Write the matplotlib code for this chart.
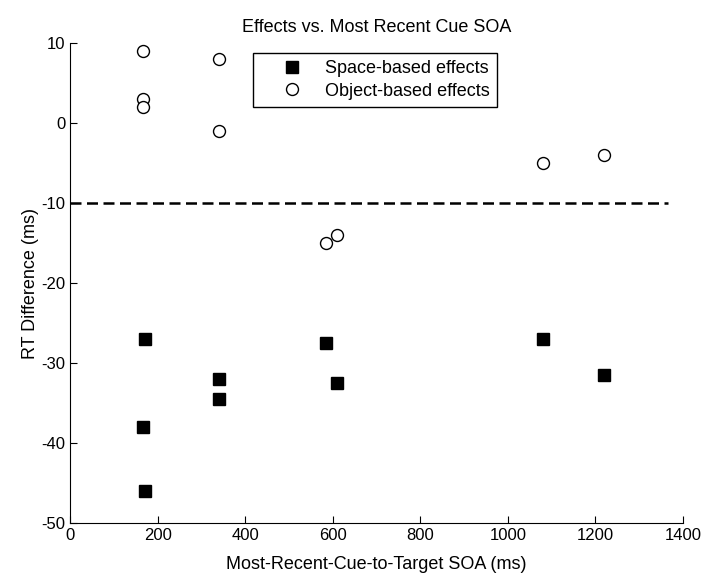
import matplotlib
matplotlib.use('Agg')
import matplotlib.pyplot as plt

plt.rcParams['font.family'] = ['Liberation Sans', 'DejaVu Sans']
plt.rcParams['axes.unicode_minus'] = False

# space-based effects
space_x = [170, 165, 170, 340, 340, 585, 610, 1080, 1220]
space_y = [-27, -38, -46, -32, -34.5, -27.5, -32.5, -27, -31.5]
# object-based effects
obj_x = [165, 165, 165, 340, 340, 585, 610, 1080, 1220]
obj_y = [9, 3, 2, 8, -1, -15, -14, -5, -4]
ref_y = -10
ref_x = [0, 1365]

fig = plt.figure(figsize=(7.04, 5.74), dpi=100)
ax = fig.add_axes([0.1, 0.088, 0.8701, 0.837])

ax.plot(space_x, space_y, 's', color='black', markersize=8.6, label='Space-based effects')
ax.plot(obj_x, obj_y, 'o', markerfacecolor='white', markeredgecolor='black',
        markersize=8.6, markeredgewidth=1.0, label='Object-based effects')
ax.plot(ref_x, [ref_y, ref_y], '--', color='black', linewidth=1.8, dashes=(4.4, 2.2))

ax.set_xlim(0, 1400)
ax.set_ylim(-50, 10)
ax.set_xticks(range(0, 1401, 200))
ax.set_yticks(range(-50, 11, 10))
ax.spines['top'].set_visible(False)
ax.spines['right'].set_visible(False)
ax.tick_params(axis='both', which='both', direction='in', length=5, labelsize=12)

ax.set_title('Effects vs. Most Recent Cue SOA', fontsize=13, pad=8)
ax.set_xlabel('Most-Recent-Cue-to-Target SOA (ms)', fontsize=13, labelpad=9)
ax.set_ylabel('RT Difference (ms)', fontsize=13, labelpad=2)

leg = ax.legend(loc='upper left', bbox_to_anchor=(0.2985, 0.979), fontsize=13,
                fancybox=False, framealpha=1, edgecolor='black', borderpad=0.4,
                handlelength=3.5, handletextpad=0.1, labelspacing=0.3,
                borderaxespad=0)
leg.get_frame().set_linewidth(1.0)

fig.savefig('out.png', dpi=100)
